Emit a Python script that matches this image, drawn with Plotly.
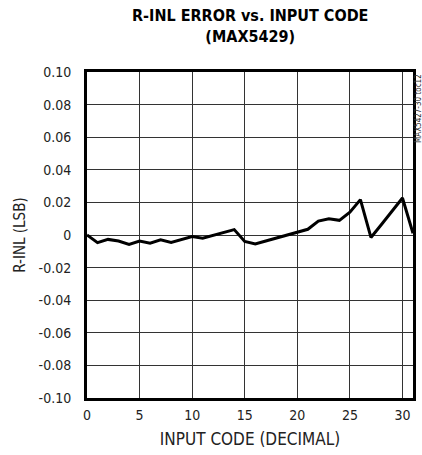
import plotly.graph_objects as go

codes = list(range(32))
rinl = [0.0, -0.0047, -0.0027, -0.0037, -0.0058, -0.0037, -0.005, -0.003,
        -0.0045, -0.0027, -0.001, -0.002, -0.0002, 0.0014, 0.0033, -0.004,
        -0.0055, -0.0037, -0.0019, 0.0, 0.0017, 0.0035, 0.0085, 0.010,
        0.009, 0.014, 0.0217, -0.0015, 0.0064, 0.0144, 0.0227, 0.001]

x_ticks = [0, 5, 10, 15, 20, 25, 30]
y_ticks = [0.10, 0.08, 0.06, 0.04, 0.02, 0, -0.02, -0.04, -0.06, -0.08, -0.10]
y_labels = ["0.10", "0.08", "0.06", "0.04", "0.02", "0", "-0.02", "-0.04", "-0.06", "-0.08", "-0.10"]

FONT = "DejaVu Sans Condensed, Liberation Sans Narrow, sans-serif"

fig = go.Figure()
fig.add_trace(go.Scatter(x=codes, y=rinl, mode="lines",
                         line=dict(color="black", width=3), showlegend=False,
                         hoverinfo="skip"))

fig.update_layout(
    width=422, height=455,
    margin=dict(l=87, r=9, t=72, b=57),
    paper_bgcolor="white", plot_bgcolor="white",
    font=dict(family=FONT, size=14, color="#222"),
    xaxis=dict(range=[0, 31], tickvals=x_ticks, showgrid=True,
               gridcolor="#333", gridwidth=1, zeroline=False,
               showline=True, linecolor="black", linewidth=3, mirror=True,
               ticks="", automargin=False, ticklabelstandoff=2,
               title=dict(text="INPUT CODE (DECIMAL)", standoff=12)),
    yaxis=dict(range=[-0.10, 0.10], tickvals=y_ticks, ticktext=y_labels,
               showgrid=True, gridcolor="#333", gridwidth=1, zeroline=False,
               showline=True, linecolor="black", linewidth=3, mirror=True,
               ticks="", automargin=False, ticklabelstandoff=10,
               title=dict(text="R-INL (LSB)", standoff=10, font=dict(size=15))),
)

fig.add_annotation(text="<b>R-INL ERROR vs. INPUT CODE<br>(MAX5429)</b>",
                   xref="paper", yref="paper", x=0.5, y=1.0,
                   xanchor="center", yanchor="bottom", yshift=24,
                   showarrow=False,
                   font=dict(family=FONT, size=16, color="black"))

fig.add_annotation(text="MAX5427-30 toc12", xref="paper", yref="paper",
                   x=1.0, y=1.0, xanchor="left", yanchor="top", xshift=-1,
                   textangle=-90, showarrow=False,
                   font=dict(family=FONT, size=8, color="#333"))

fig.write_html("out.html",
               config={"displayModeBar": False},
               post_script="document.body.style.margin='0';document.body.style.overflow='hidden';")
